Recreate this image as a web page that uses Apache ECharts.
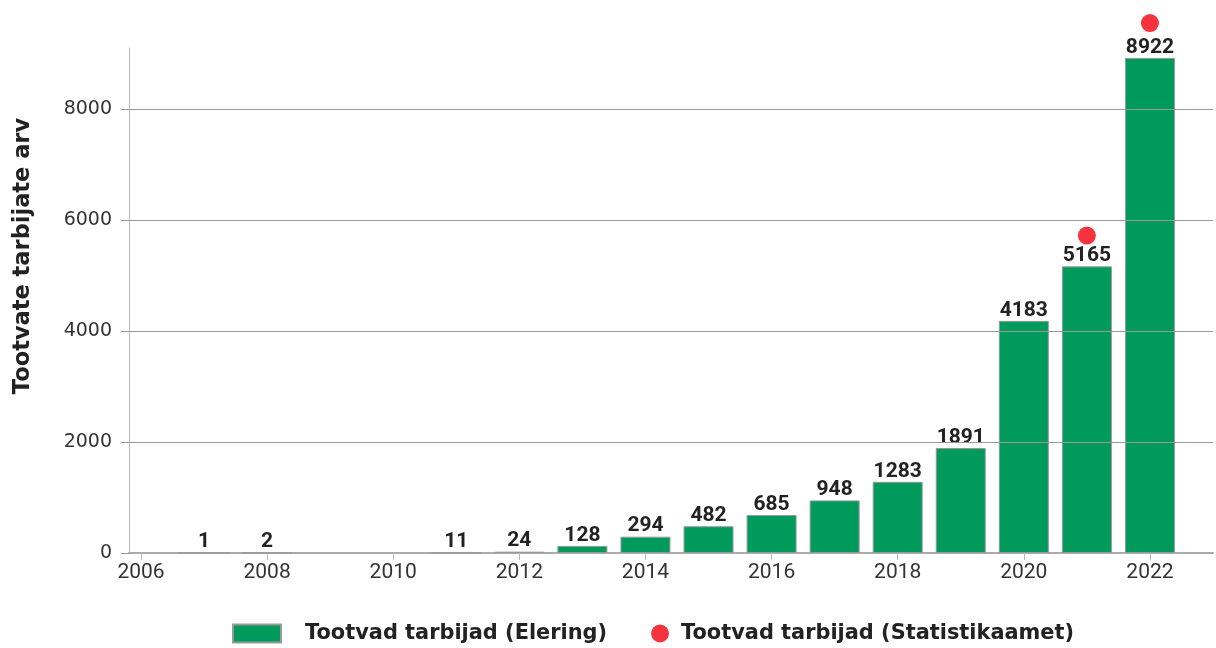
<!DOCTYPE html>
<html><head><meta charset="utf-8">
<script src="https://cdn.jsdelivr.net/npm/echarts@6/dist/echarts.min.js"></script>
<style>html,body{margin:0;padding:0;background:#fff}#c{width:1216px;height:648px}</style>
</head><body><div id="c"></div>
<script>
const years = [2007, 2008, 2009, 2010, 2011, 2012, 2013, 2014, 2015, 2016, 2017, 2018, 2019, 2020, 2021, 2022];
const elering = [1, 2, null, null, 11, 24, 128, 294, 482, 685, 948, 1283, 1891, 4183, 5165, 8922];
const statYears = [2021, 2022];
const statistikaamet = [5720, 9550];
const xTicks = [2006, 2008, 2010, 2012, 2014, 2016, 2018, 2020, 2022];
const yTicks = [0, 2000, 4000, 6000, 8000];
const seriesNames = ['Tootvad tarbijad (Elering)', 'Tootvad tarbijad (Statistikaamet)'];
const yTitle = 'Tootvate tarbijate arv';

const chart = echarts.init(document.getElementById('c'));
chart.setOption({
  animation: false,
  grid: {left: 129, right: 3, top: 48, bottom: 95},
  graphic: [{
    type: 'text', x: 23, y: 256, rotation: Math.PI / 2,
    style: {text: yTitle, fontFamily: 'DejaVu Sans', fontWeight: 'bold', fontSize: 22.5, fill: '#222',
      align: 'center', verticalAlign: 'middle'}
  }],
  legend: [
    {data: [{name: seriesNames[0], icon: 'rect'}], left: 232, top: 623, padding: 0, itemWidth: 48, itemHeight: 18, itemGap: 0,
     textStyle: {fontFamily: 'DejaVu Sans', fontWeight: 'bold', fontSize: 20.9, color: '#222', padding: [0,0,0,19]}},
    {data: [{name: seriesNames[1], icon: 'circle'}], left: 651, top: 623, padding: 0, itemWidth: 18, itemHeight: 18, itemGap: 0,
     textStyle: {fontFamily: 'DejaVu Sans', fontWeight: 'bold', fontSize: 20.9, color: '#222', padding: [0,0,0,7]}}
  ],
  xAxis: {
    type: 'value', min: 2005.81, max: 2023.0,
    splitLine: {show: false},
    axisLine: {show: true, lineStyle: {color: '#aaa', width: 2}},
    axisTick: {show: true, customValues: xTicks, length: 7, lineStyle: {color: '#bbb'}},
    axisLabel: {customValues: xTicks, fontFamily: 'Roboto', fontSize: 21, color: '#333', margin: 9,
      formatter: v => String(v)}
  },
  yAxis: {
    type: 'value', min: 0, max: 9100,
    axisLine: {show: true, lineStyle: {color: '#bbb', width: 1}},
    axisTick: {show: true, customValues: yTicks, length: 8, lineStyle: {color: '#999'}},
    axisLabel: {customValues: yTicks, fontFamily: 'DejaVu Sans', fontSize: 19, color: '#333', margin: 17,
      formatter: v => String(v)},
    splitLine: {show: false}
  },
  series: [
    {
      name: seriesNames[0], type: 'bar', barWidth: 50,
      data: years.map((y, i) => [y, elering[i]]),
      itemStyle: {color: '#009a5c', borderColor: '#999', borderWidth: 1},
      label: {show: true, position: 'top', distance: 0, fontFamily: 'Roboto', fontWeight: 'bold', fontSize: 21, color: '#222',
        formatter: p => p.value[1]},
      markLine: {
        silent: true, symbol: 'none', label: {show: false},
        lineStyle: {color: '#999', type: 'solid', width: 1},
        data: yTicks.slice(1).map(v => ({yAxis: v}))
      },
      z: 3
    },
    {
      name: seriesNames[1], type: 'scatter', symbol: 'circle', symbolSize: 18, clip: false,
      data: statYears.map((y, i) => [y, statistikaamet[i]]),
      itemStyle: {color: '#f5333f', opacity: 1}, z: 5
    }
  ]
});
</script></body></html>
